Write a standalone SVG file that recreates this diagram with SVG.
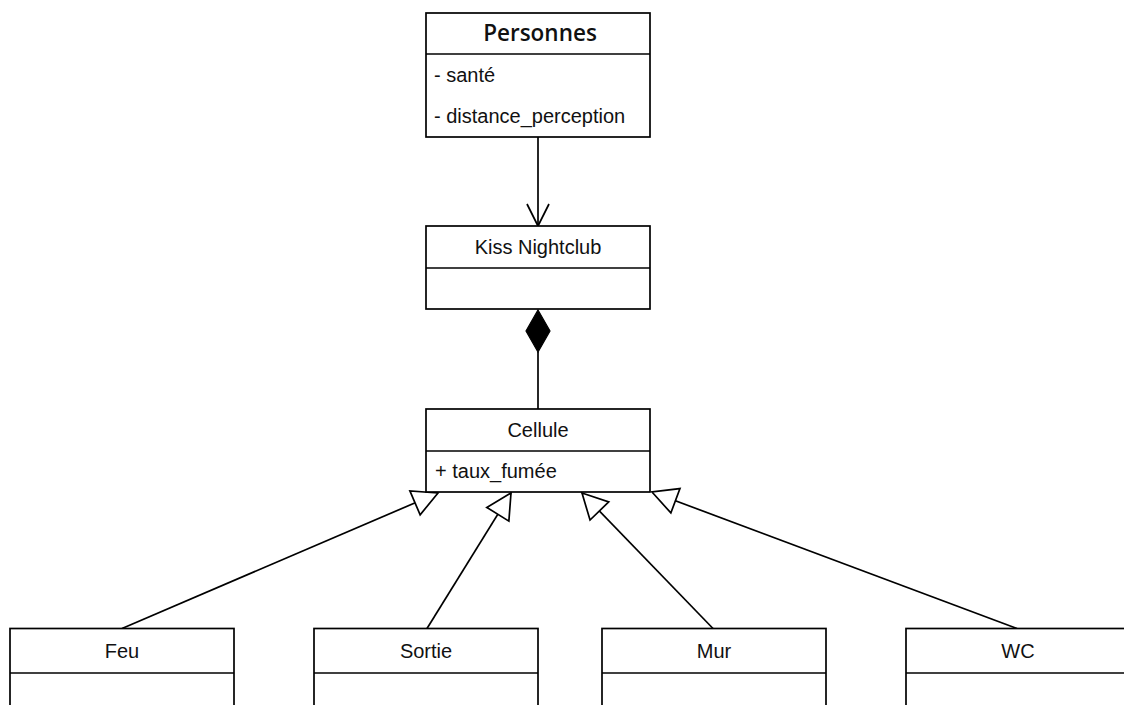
<svg xmlns="http://www.w3.org/2000/svg" width="1124" height="705" viewBox="0 0 1124 705">
<style>
.box{fill:#fff;stroke:#000;stroke-width:1.7}
.div{stroke:#000;stroke-width:1.7}
.t{font-family:"Liberation Sans",Arial,sans-serif;font-size:20px;fill:#111}
.c{text-anchor:middle}
.title{font-family:"Open Sans","Liberation Sans",sans-serif;font-size:22.5px;font-weight:600;fill:#111;text-anchor:middle}
.edge{fill:none;stroke:#000;stroke-width:1.7}
</style>
<defs>
<marker id="tri" markerUnits="userSpaceOnUse" markerWidth="30" markerHeight="30" viewBox="-27 -15 30 30" refX="0" refY="0" orient="auto">
<path d="M0,0 L-25,-13 L-25,13 Z" fill="#fff" stroke="#000" stroke-width="1.7"/>
</marker>
<marker id="open" markerUnits="userSpaceOnUse" markerWidth="30" markerHeight="30" viewBox="-27 -15 30 30" refX="0" refY="0" orient="auto">
<path d="M-22,-11 L0,0 L-22,11" fill="none" stroke="#000" stroke-width="1.7"/>
</marker>
</defs>
<rect width="1124" height="705" fill="#fff"/>
<g id="connectors">
<path class="edge" d="M538,137 L538,226" marker-end="url(#open)"/>
<path d="M538,310 L550,331 L538,352 L526,331 Z" fill="#000" stroke="#000" stroke-width="1.2"/>
<path class="edge" d="M538,352 L538,409"/>
<path class="edge" d="M122,628.5 L438,493" marker-end="url(#tri)"/>
<path class="edge" d="M427,628.5 L511,493" marker-end="url(#tri)"/>
<path class="edge" d="M713,628.5 L582,493" marker-end="url(#tri)"/>
<path class="edge" d="M1017,628.5 L652,492" marker-end="url(#tri)"/>
</g>
<g id="personnes">
<rect class="box" x="426" y="13" width="224" height="124"/>
<line class="div" x1="426" y1="54" x2="650" y2="54"/>
<text class="title" x="540" y="41">Personnes</text>
<text class="t" x="434" y="82">- santé</text>
<text class="t" x="434" y="123">- distance_perception</text>
</g>
<g id="kiss">
<rect class="box" x="426" y="226" width="224" height="83"/>
<line class="div" x1="426" y1="268" x2="650" y2="268"/>
<text class="t c" x="538" y="254">Kiss Nightclub</text>
</g>
<g id="cellule">
<rect class="box" x="426" y="409" width="224" height="83"/>
<line class="div" x1="426" y1="451" x2="650" y2="451"/>
<text class="t c" x="538" y="437">Cellule</text>
<text class="t" x="435" y="478">+ taux_fumée</text>
</g>
<g id="feu">
<rect class="box" x="10" y="628.5" width="224" height="100"/>
<line class="div" x1="10" y1="673" x2="234" y2="673"/>
<text class="t c" x="122" y="658">Feu</text>
</g>
<g id="sortie">
<rect class="box" x="314" y="628.5" width="224" height="100"/>
<line class="div" x1="314" y1="673" x2="538" y2="673"/>
<text class="t c" x="426" y="658">Sortie</text>
</g>
<g id="mur">
<rect class="box" x="602" y="628.5" width="224" height="100"/>
<line class="div" x1="602" y1="673" x2="826" y2="673"/>
<text class="t c" x="714" y="658">Mur</text>
</g>
<g id="wc">
<rect class="box" x="906" y="628.5" width="224" height="100"/>
<line class="div" x1="906" y1="673" x2="1130" y2="673"/>
<text class="t c" x="1018" y="658">WC</text>
</g>
</svg>
